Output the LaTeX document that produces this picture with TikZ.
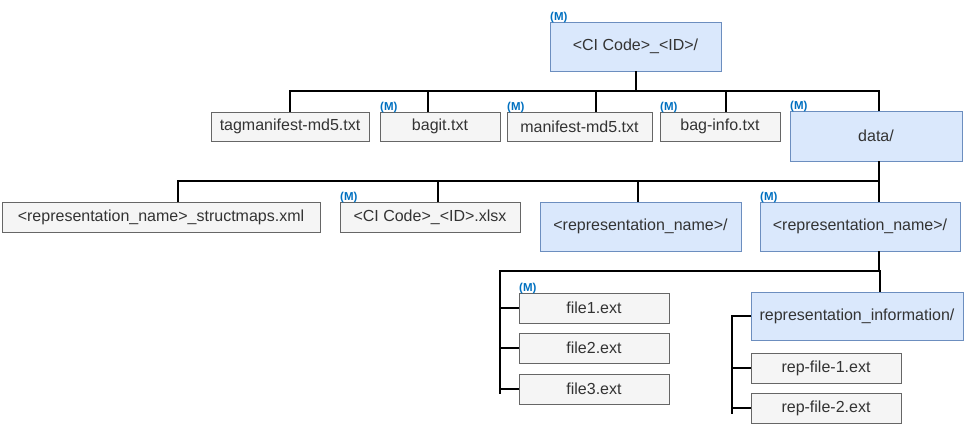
\documentclass[tikz,border=0pt]{standalone}
\usepackage{fontspec}
\setmainfont{Liberation Sans}
\usetikzlibrary{calc}
\definecolor{gfill}{HTML}{F5F5F5}
\definecolor{gdraw}{HTML}{666666}
\definecolor{bfill}{HTML}{DAE8FC}
\definecolor{bdraw}{HTML}{6C8EBF}
\definecolor{txt}{HTML}{333333}
\definecolor{mblue}{HTML}{0070C0}
\tikzset{
  gbox/.style={draw=gdraw, fill=gfill, line width=1pt, inner sep=0pt, outer sep=0pt, text=txt, font=\fontsize{16}{19}\selectfont},
  bbox/.style={draw=bdraw, fill=bfill, line width=1pt, inner sep=0pt, outer sep=0pt, text=txt, font=\fontsize{16}{19}\selectfont},
  conn/.style={line width=2pt, black},
  mlab/.style={text=mblue, font=\fontsize{11.5}{13}\selectfont\bfseries, inner sep=0pt, anchor=south west}
}
\begin{document}
\begin{tikzpicture}[x=1pt,y=-1pt]
\useasboundingbox (0,0) rectangle (964,424);
% level 0
\node[bbox, minimum width=171, minimum height=49] (root) at (635.5,46.5) {<CI Code>\_<ID>/};
% level 1
\node[gbox, minimum width=158, minimum height=29] (tag) at (290,126.5) {tagmanifest-md5.txt};
\node[gbox, minimum width=120, minimum height=29] (bagit) at (440,126.5) {bagit.txt};
\node[gbox, minimum width=145, minimum height=29] (manifest) at (579.5,126.5) {manifest-md5.txt};
\node[gbox, minimum width=120, minimum height=29] (baginfo) at (720,126.5) {bag-info.txt};
\node[bbox, minimum width=172, minimum height=50] (data) at (876,136) {data/};
% level 2
\node[gbox, minimum width=318, minimum height=30] (struct) at (161,217) {<representation\_name>\_structmaps.xml};
\node[gbox, minimum width=180, minimum height=30] (xlsx) at (430,217) {<CI Code>\_<ID>.xlsx};
\node[bbox, minimum width=201, minimum height=49] (rep1) at (640.5,226.5) {<representation\_name>/};
\node[bbox, minimum width=200, minimum height=49] (rep2) at (860,226.5) {<representation\_name>/};
% level 3
\node[gbox, minimum width=150, minimum height=30] (f1) at (594,308) {file1.ext};
\node[gbox, minimum width=150, minimum height=30] (f2) at (594,348) {file2.ext};
\node[gbox, minimum width=150, minimum height=30] (f3) at (594,389) {file3.ext};
\node[bbox, minimum width=212, minimum height=48] (repinfo) at (857,316) {representation\_information/};
\node[gbox, minimum width=150, minimum height=30] (rf1) at (826,368) {rep-file-1.ext};
\node[gbox, minimum width=150, minimum height=30] (rf2) at (826,408) {rep-file-2.ext};
% (M) labels
\node[mlab] (m0) at ([yshift=-1.5]root.north west) {(M)};
\node[mlab] (m1) at ([yshift=-1.5]bagit.north west) {(M)};
\node[mlab] (m2) at ([yshift=-1.5]manifest.north west) {(M)};
\node[mlab] (m3) at ([yshift=-1.5]baginfo.north west) {(M)};
\node[mlab] (m4) at ([yshift=-1.5]data.north west) {(M)};
\node[mlab] (m5) at ([yshift=-1.5]xlsx.north west) {(M)};
\node[mlab] (m6) at ([yshift=-1.5]rep2.north west) {(M)};
\node[mlab] (m7) at ([yshift=-1.5]f1.north west) {(M)};
% connectors level 0 -> 1
\coordinate (bus1) at (root.south |- 0,91);
\draw[conn] (root.south) -- (bus1);
\draw[conn] (bus1) -| (tag.north);
\draw[conn] (bus1) -| ([xshift=-12]bagit.north);
\draw[conn] (bus1) -| ([xshift=16.5]manifest.north);
\draw[conn] (bus1) -| ([xshift=6]baginfo.north);
\draw[conn] (bus1) -| ([xshift=3]data.north);
% level 1 -> 2
\coordinate (bus2) at ([xshift=3]data.south |- 0,181);
\draw[conn] ([xshift=3]data.south) -- (bus2);
\draw[conn] (bus2) -| ([xshift=17]struct.north);
\draw[conn] (bus2) -| ([xshift=8]xlsx.north);
\draw[conn] (bus2) -| ([xshift=-2.5]rep1.north);
\draw[conn] (bus2) -| ([xshift=19]rep2.north);
% level 2 -> 3
\coordinate (bus3) at ([xshift=19]rep2.south |- 0,271);
\coordinate (fbus) at (500,271);
\coordinate (fend) at (500,394);
\draw[conn] ([xshift=19]rep2.south) -- (bus3);
\draw[conn] (bus3) -- (fbus) -- (fend);
\draw[conn] (fbus |- f1.west) -- (f1.west);
\draw[conn] (fbus |- f2.west) -- (f2.west);
\draw[conn] (fbus |- f3.west) -- (f3.west);
\draw[conn] (bus3) -| ([xshift=23]repinfo.north);
% rep info -> files
\coordinate (rbus) at (732,316);
\coordinate (rend) at (732,414);
\draw[conn] (repinfo.west) -- (rbus) -- (rend);
\draw[conn] (rbus |- rf1.west) -- (rf1.west);
\draw[conn] (rbus |- rf2.west) -- (rf2.west);
\end{tikzpicture}
\end{document}
